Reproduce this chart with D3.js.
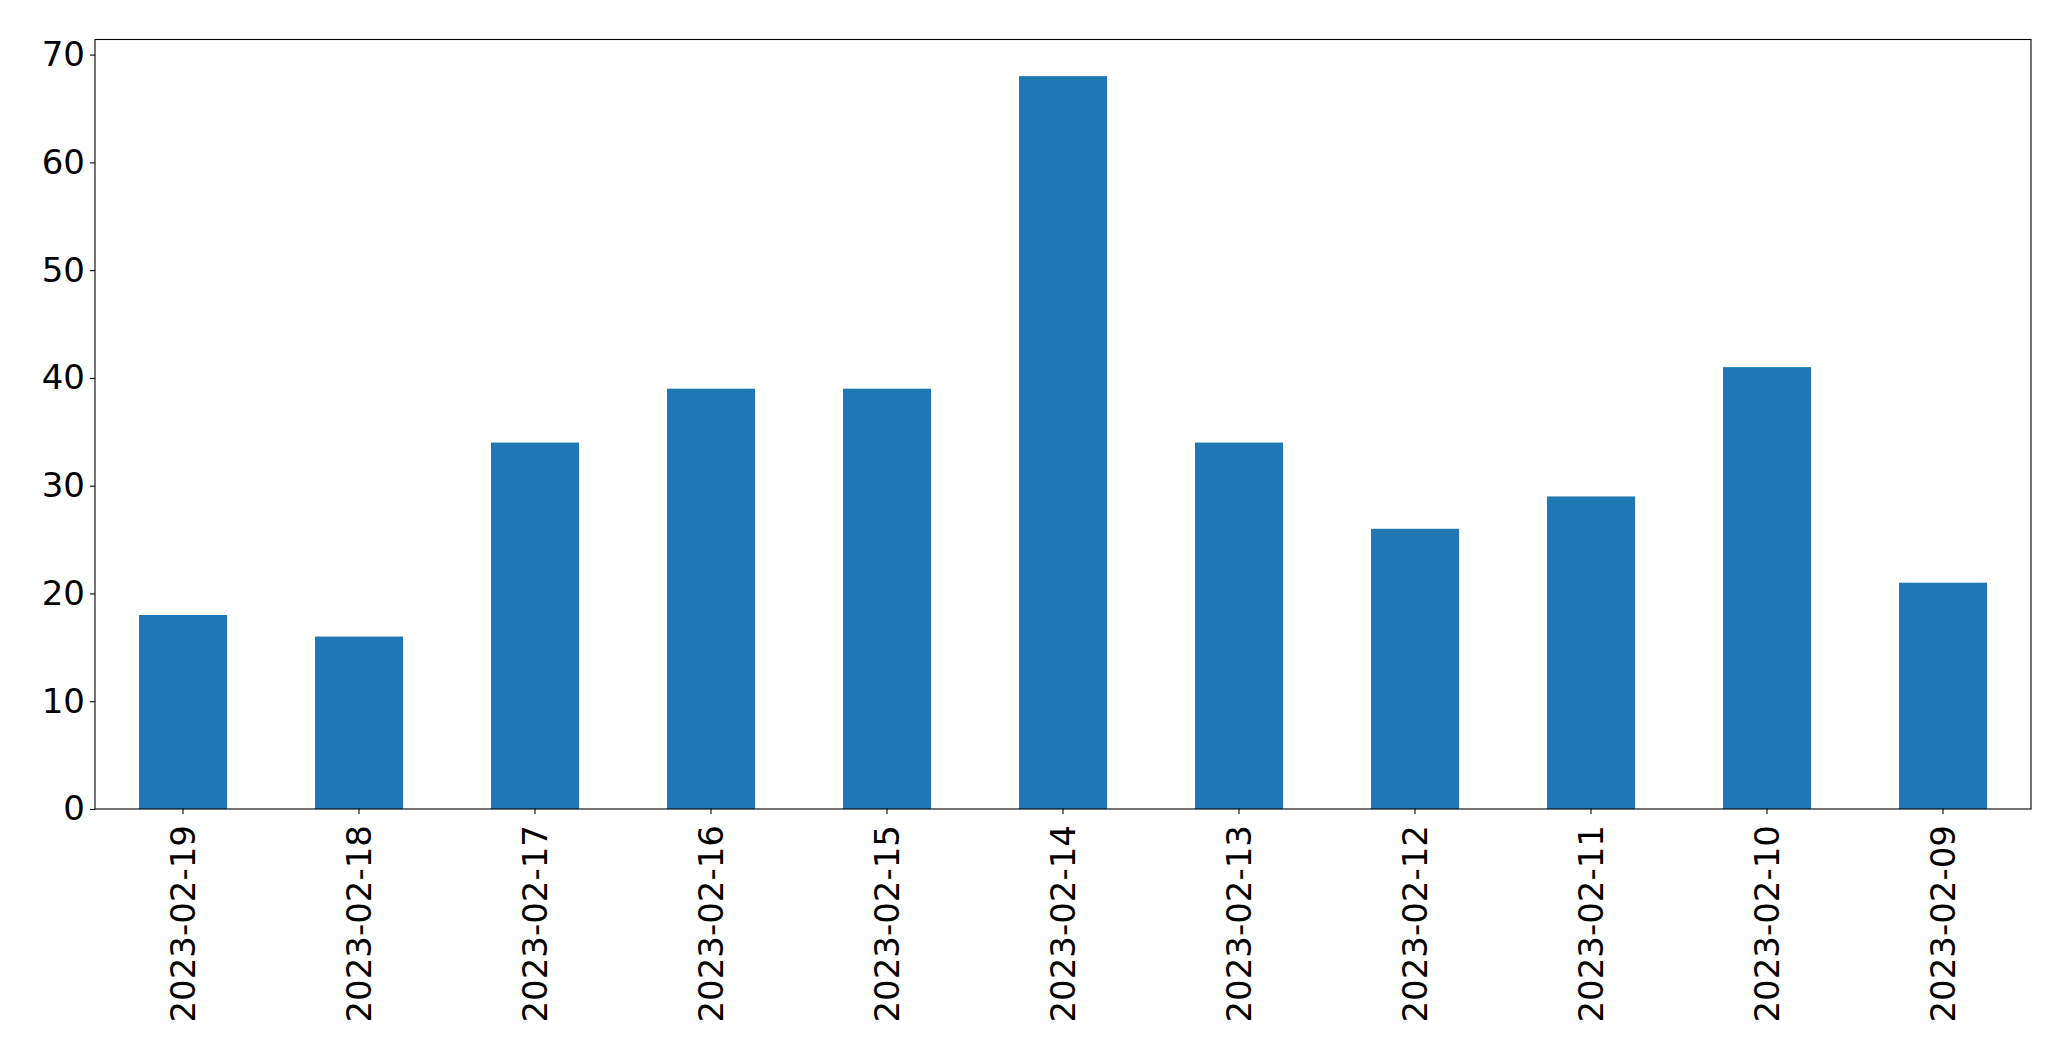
<!DOCTYPE html>
<html>
<head>
<meta charset="utf-8">
<script src="https://cdn.jsdelivr.net/npm/d3@7"></script>
<style>
  html, body { margin: 0; padding: 0; background: #fff; }
  svg { display: block; }
  text { font-family: "DejaVu Sans", sans-serif; }
</style>
</head>
<body>
<svg id="chart" width="2071" height="1061"></svg>
<script>
const categories = ["2023-02-19","2023-02-18","2023-02-17","2023-02-16","2023-02-15","2023-02-14","2023-02-13","2023-02-12","2023-02-11","2023-02-10","2023-02-09"];
const values = [18,16,34,39,39,68,34,26,29,41,21];
const yTicks = [0,10,20,30,40,50,60,70];

const W = 2071, H = 1061;
const m = {left: 95, right: 2031, top: 39.5, bottom: 809};
const svg = d3.select("#chart");

const x = d3.scaleBand().domain(categories).range([m.left, m.right]).paddingInner(0.5).paddingOuter(0.25);
const yMax = d3.max(values) * 1.05;
const y = d3.scaleLinear().domain([0, yMax]).range([m.bottom, m.top]);

svg.append("g").selectAll("rect").data(values).join("rect")
  .attr("x", (d,i) => x(categories[i]))
  .attr("width", x.bandwidth())
  .attr("y", d => y(d))
  .attr("height", d => y(0) - y(d))
  .attr("fill", "#1f77b4");

const fs = 34;
const yAxis = svg.append("g").attr("transform", `translate(${m.left},0)`)
  .call(d3.axisLeft(y).tickValues(yTicks).tickFormat(d3.format("d")).tickSizeOuter(0).tickSize(5).tickPadding(5));
yAxis.select(".domain").remove();
yAxis.selectAll("text").attr("font-size", fs).attr("fill", "#000").attr("font-family", "DejaVu Sans");
yAxis.selectAll("line").attr("stroke", "#000").attr("stroke-width", 1.1);

const xAxis = svg.append("g").attr("transform", `translate(0,${m.bottom})`)
  .call(d3.axisBottom(x).tickSizeOuter(0).tickSize(5).tickPadding(0));
xAxis.select(".domain").remove();
xAxis.selectAll("line").attr("stroke", "#000").attr("stroke-width", 1.1);
xAxis.selectAll("text")
  .attr("font-size", fs).attr("fill", "#000").attr("font-family", "DejaVu Sans")
  .attr("text-anchor", "end")
  .attr("dy", null)
  .attr("dominant-baseline", "central")
  .attr("transform", "translate(0,16) rotate(-90)")
  .attr("x", 0).attr("y", 0);

svg.append("rect")
  .attr("x", m.left).attr("y", m.top)
  .attr("width", m.right - m.left).attr("height", m.bottom - m.top)
  .attr("fill", "none").attr("stroke", "#000").attr("stroke-width", 1.1);
</script>
</body>
</html>
